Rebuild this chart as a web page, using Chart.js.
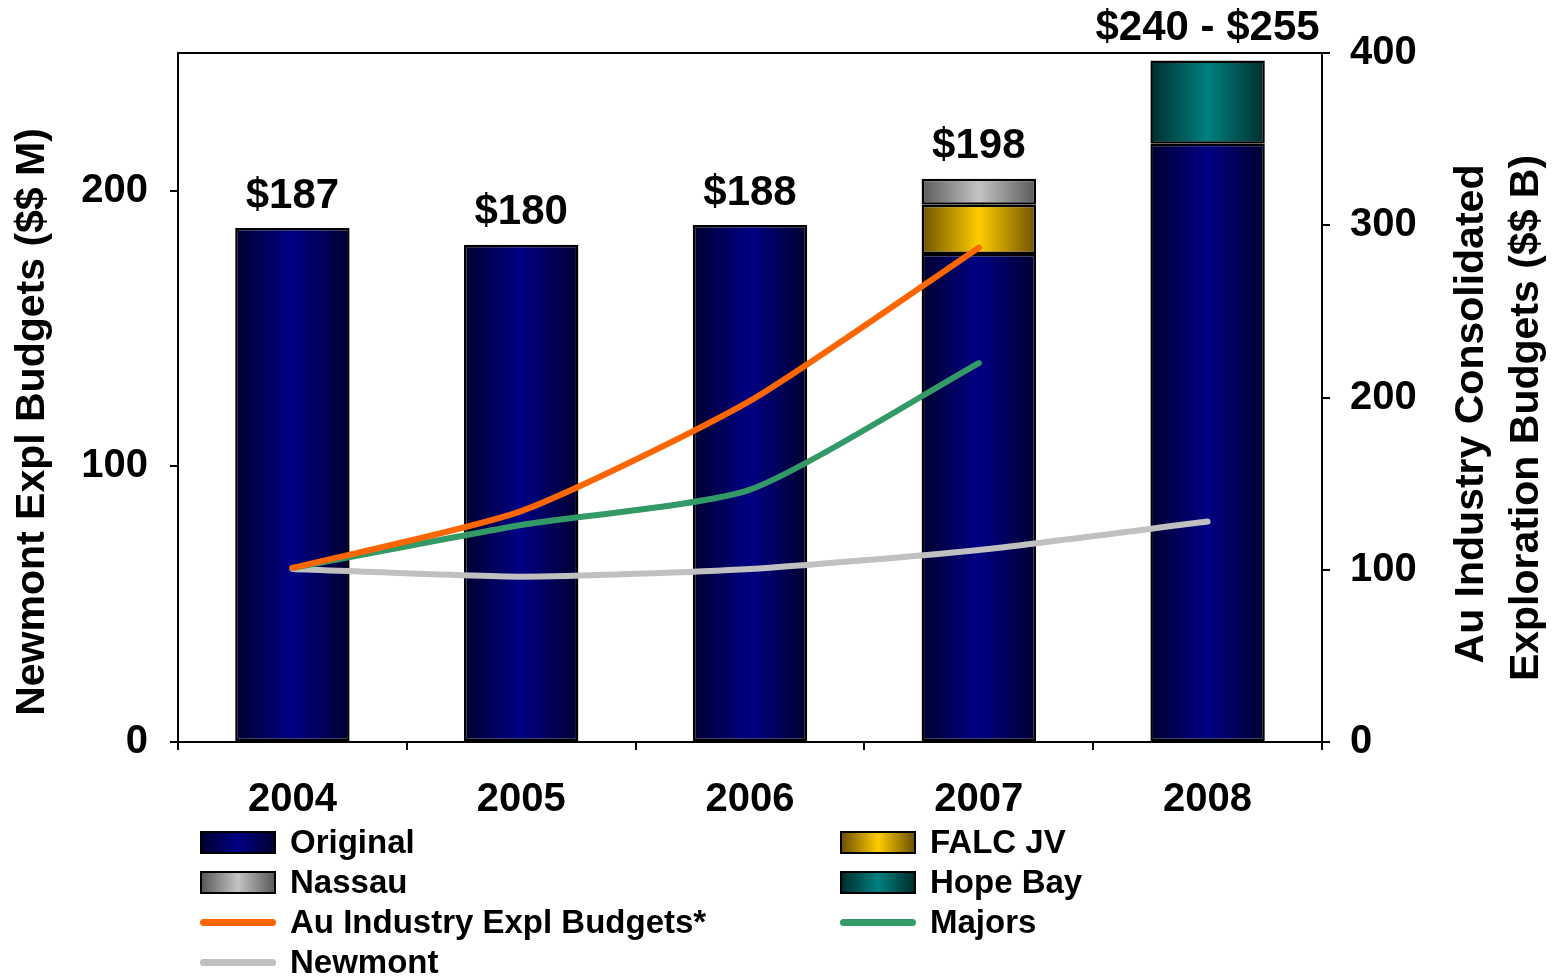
<!DOCTYPE html>
<html><head><meta charset="utf-8">
<script src="https://cdn.jsdelivr.net/npm/chart.js@4/dist/chart.umd.min.js"></script>
<style>
html,body{margin:0;padding:0;background:#fff;}
#wrap{position:relative;width:1558px;height:978px;overflow:hidden;}
#legend{position:absolute;left:0;top:0;width:1558px;height:978px;pointer-events:none;font-family:'Liberation Sans',Arial,sans-serif;font-weight:bold;font-size:33px;color:#000;}
.item{position:absolute;display:flex;align-items:center;height:40px;white-space:nowrap;}
.sw{box-sizing:border-box;width:76px;margin-right:14px;flex:none;}
</style></head>
<body><div id="wrap"><canvas id="c" width="1558" height="978"></canvas><div id="legend"></div></div>
<script>
// ---- data ----
const categories = ['2004', '2005', '2006', '2007', '2008'];
const original   = [186.5, 180.4, 187.6, 177.1, 217.1];
const falcJV     = [null, null, null, 17.8, null];
const nassau     = [null, null, null, 9.5, null];
const hopeBay    = [null, null, null, null, 30.2];
const auIndustry = [101, 134, 198, 287, null];
const majors     = [101, 126, 146.5, 220, null];
const newmont    = [100.5, 96, 100.5, 111.5, 128];
const barLabels  = ['$187', '$180', '$188', '$198', '$240 - $255'];
const leftTicks  = [0, 100, 200];
const rightTicks = [0, 100, 200, 300, 400];
const leftTitle  = 'Newmont Expl Budgets ($$ M)';
const rightTitle = ['Au Industry Consolidated', 'Exploration Budgets ($$ B)'];

const FONT = '"Liberation Sans", Arial, sans-serif';

function barGradient(edge, mid) {
  return (ctx) => {
    const chart = ctx.chart, ca = chart.chartArea;
    if (!ca || ctx.type !== 'data') return mid;
    const cx = chart.scales.x.getPixelForValue(ctx.dataIndex);
    const w = (ca.right - ca.left) / categories.length * 0.5;
    const g = chart.ctx.createLinearGradient(cx - w / 2, 0, cx + w / 2, 0);
    g.addColorStop(0, edge); g.addColorStop(0.5, mid); g.addColorStop(1, edge);
    return g;
  };
}

const barStyle = {
  Original: ['#000030', '#000085'],
  'FALC JV': ['#6e5200', '#ffcc00'],
  Nassau: ['#5a5a5a', '#c4c4c4'],
  'Hope Bay': ['#002e2e', '#008080']
};

function barDs(label, data) {
  return {
    type: 'bar', label, data, yAxisID: 'y', order: 2,
    backgroundColor: barGradient(barStyle[label][0], barStyle[label][1]),
    borderColor: '#000', borderWidth: 2.5, borderSkipped: false,
    barPercentage: 0.5, categoryPercentage: 1.0
  };
}
function lineDs(label, data, color) {
  return {
    type: 'line', label, data, yAxisID: 'y1', order: 1,
    borderColor: color, backgroundColor: color, borderWidth: 6,
    pointRadius: 0, tension: 0.2, fill: false,
    borderCapStyle: 'round', borderJoinStyle: 'round'
  };
}

const extras = {
  id: 'extras',
  afterDatasetsDraw(chart) {
    const c = chart.ctx, ca = chart.chartArea;
    c.save();
    c.strokeStyle = '#000'; c.lineWidth = 2;
    c.beginPath(); c.moveTo(ca.left, ca.top); c.lineTo(ca.right, ca.top); c.stroke();
    c.fillStyle = '#000';
    c.font = 'bold 42px ' + FONT;
    c.textAlign = 'center'; c.textBaseline = 'middle';
    const ds = chart.data.datasets;
    categories.forEach((cat, j) => {
      let top = Infinity, x = 0;
      ds.forEach((d, i) => {
        if (d.type !== 'bar') return;
        const el = chart.getDatasetMeta(i).data[j];
        if (d.data[j] != null && el) { top = Math.min(top, el.y); x = el.x; }
      });
      if (top < Infinity) c.fillText(barLabels[j], x, top - 32);
    });
    c.font = 'bold 41px ' + FONT;
    c.save(); c.translate(33, 422); c.rotate(-Math.PI / 2); c.fillText(leftTitle, 0, 0); c.restore();
    c.save(); c.translate(1472, 414); c.rotate(-Math.PI / 2); c.fillText(rightTitle[0], 0, 0); c.restore();
    c.save(); c.translate(1527, 418); c.rotate(-Math.PI / 2); c.fillText(rightTitle[1], 0, 0); c.restore();
    c.restore();
  }
};

const tickFont = { family: FONT, size: 40, weight: 'bold' };
const axisGrid = { drawOnChartArea: false, drawTicks: true, tickLength: 8, color: '#000', lineWidth: 2 };

const chart = new Chart(document.getElementById('c'), {
  data: {
    labels: categories,
    datasets: [
      barDs('Original', original),
      barDs('FALC JV', falcJV),
      barDs('Nassau', nassau),
      barDs('Hope Bay', hopeBay),
      lineDs('Au Industry Expl Budgets*', auIndustry, '#ff6600'),
      lineDs('Majors', majors, '#339966'),
      lineDs('Newmont', newmont, '#c0c0c0')
    ]
  },
  options: {
    responsive: false, animation: false, devicePixelRatio: 1,
    layout: { padding: { top: 53, left: 0, right: 0, bottom: 0 } },
    plugins: { legend: { display: false }, tooltip: { enabled: false } },
    scales: {
      x: {
        stacked: true,
        grid: Object.assign({ offset: true }, axisGrid),
        border: { display: true, color: '#000', width: 2 },
        ticks: { font: tickFont, color: '#000', padding: 26, maxRotation: 0 },
        afterFit: s => { s.height = 236; }
      },
      y: {
        position: 'left', stacked: true, min: 0, max: 250,
        grid: axisGrid,
        border: { display: true, color: '#000', width: 2 },
        ticks: { font: tickFont, color: '#000', padding: 22 },
        afterBuildTicks: s => { s.ticks = leftTicks.map(v => ({ value: v })); },
        afterFit: s => { s.width = 178; }
      },
      y1: {
        position: 'right', min: 0, max: 400,
        grid: axisGrid,
        border: { display: true, color: '#000', width: 2 },
        ticks: { font: tickFont, color: '#000', padding: 20 },
        afterBuildTicks: s => { s.ticks = rightTicks.map(v => ({ value: v })); },
        afterFit: s => { s.width = 236; }
      }
    }
  },
  plugins: [extras]
});

// ---- HTML legend built from the datasets ----
const legendOrder = ['Original', 'FALC JV', 'Nassau', 'Hope Bay', 'Au Industry Expl Budgets*', 'Majors', 'Newmont'];
const legendEl = document.getElementById('legend');
legendOrder.forEach((name, k) => {
  const d = chart.data.datasets.find(ds => ds.label === name);
  const col = k % 2, row = Math.floor(k / 2);
  const item = document.createElement('div');
  item.className = 'item';
  item.style.left = (col ? 840 : 200) + 'px';
  item.style.top = (822 + row * 40) + 'px';
  const sw = document.createElement('div');
  sw.className = 'sw';
  if (d.type === 'bar') {
    const [e, m] = barStyle[name];
    sw.style.height = '23px';
    sw.style.border = '2px solid #000';
    sw.style.background = `linear-gradient(to right, ${e}, ${m}, ${e})`;
  } else {
    sw.style.height = '7px';
    sw.style.borderRadius = '4px';
    sw.style.background = d.borderColor;
  }
  const tx = document.createElement('span');
  tx.textContent = name;
  item.appendChild(sw); item.appendChild(tx);
  legendEl.appendChild(item);
});
</script>
</body></html>
